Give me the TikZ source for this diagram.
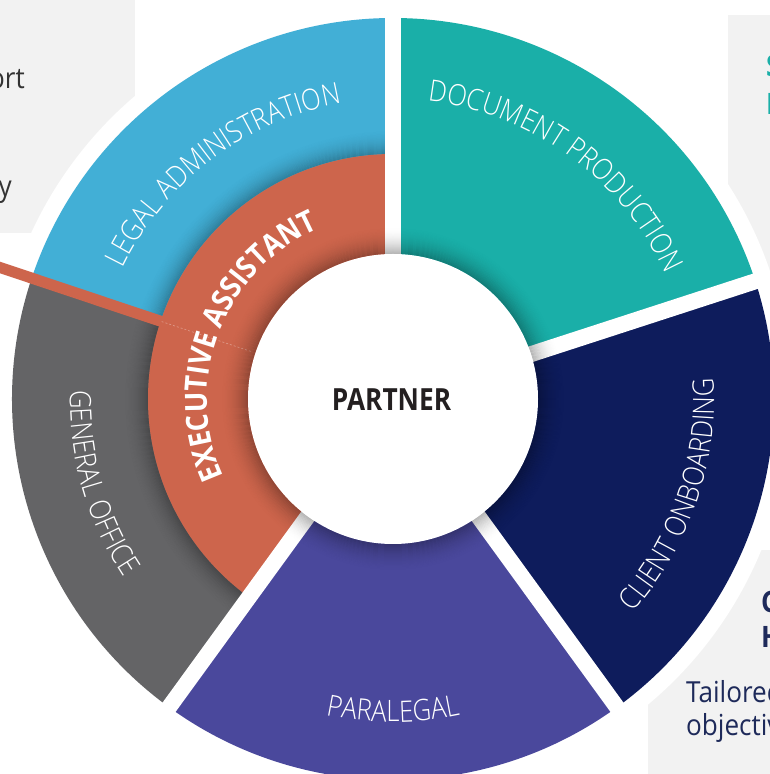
\documentclass[tikz,border=0pt]{standalone}
\usepackage{fontspec}
\usetikzlibrary{decorations.text}
\IfFontExistsTF{Open Sans Light}{\newfontfamily\lblfont[FakeStretch=0.87]{Open Sans Light}}{\newfontfamily\lblfont[FakeStretch=0.87]{Open Sans}}
\newfontfamily\ptfont[FakeStretch=0.86]{Open Sans}
\newfontfamily\boxfont[FakeStretch=0.9]{Open Sans}
\newfontfamily\eafont[FakeStretch=0.89]{Open Sans}
\definecolor{cblue}{HTML}{42AFD6}
\definecolor{cteal}{HTML}{1AAFA8}
\definecolor{cnavy}{HTML}{0E1C5C}
\definecolor{cpurple}{HTML}{4A489C}
\definecolor{cgray}{HTML}{646466}
\definecolor{corange}{HTML}{CD654C}
\definecolor{cbox}{HTML}{F2F2F2}
\definecolor{ctext}{HTML}{333333}
\definecolor{cnavytext}{HTML}{1E2A5A}
\definecolor{cpartner}{HTML}{231F20}
\tikzset{
  boxtext/.style={inner sep=0pt, anchor=base west, font=\boxfont\fontsize{29}{35}\selectfont},
  boxhead/.style={inner sep=0pt, anchor=base west, font=\boxfont\bfseries\fontsize{29.5}{35}\selectfont},
  gapline/.style={white, line width=16},
  arclabel/.style={decorate, decoration={text along path, text color=white, text align=center, text={|\lblfont\fontsize{29.5}{29.5}\selectfont|#1}}},
}
\begin{document}
\begin{tikzpicture}[x=1pt,y=1pt]
\useasboundingbox (0,0) rectangle (770,774);
\clip (0,0) rectangle (770,774);
\fill[white] (0,0) rectangle (770,774);
% side boxes
\fill[cbox] (0,541) rectangle (135,780);
\fill[cbox] (728,474) rectangle (780,759);
\fill[cbox] (648,-10) rectangle (780,224);
\node[boxtext, anchor=base east, text=ctext] (tl1) at (25,685) {ort};
\node[boxtext, anchor=base east, text=ctext] (tl2) at (12,577) {y};
\node[boxhead, text=cteal] (tr1) at (766,697) {S};
\node[boxhead, text=cteal] (tr2) at (766,659) {I};
\node[boxhead, text=cnavytext] (br1) at (761,161) {C};
\node[boxhead, text=cnavytext] (br2) at (761,126) {H};
\node[boxtext, text=cnavytext] (br3) at (686,71) {Tailored};
\node[boxtext, text=cnavytext] (br4) at (686,38) {objective};
\begin{scope}[shift={(393,375)}]
  \fill[white] (0,0) circle (398);
  \fill[cteal] (0,0) -- (18:381) arc[start angle=18,end angle=90,radius=381] -- cycle;
  \fill[cnavy] (0,0) -- (-54:381) arc[start angle=-54,end angle=18,radius=381] -- cycle;
  \fill[cpurple] (0,0) -- (-126:381) arc[start angle=-126,end angle=-54,radius=381] -- cycle;
  \fill[cgray] (0,0) -- (161.5:381) arc[start angle=161.5,end angle=234,radius=381] -- cycle;
  \fill[cblue] (0,0) -- (90:381) arc[start angle=90,end angle=161.5,radius=381] -- cycle;
  % shadow of the inner ring on the outer ring
  \begin{scope}
    \clip (0,0) -- (90:400) arc[start angle=90,end angle=234,radius=400] -- cycle;
    \foreach \k in {0,...,24} {
      \pgfmathsetmacro\op{0.24*(1-\k/25)^2}
      \fill[black, opacity=\op, even odd rule] (0,0) circle (245+\k) (0,0) circle (246+\k);
    }
  \end{scope}
  % executive assistant ring
  \fill[corange] (0,0) -- (90:245) arc[start angle=90,end angle=234,radius=245] -- cycle;
  \draw[corange, line width=11] (161.5:240) -- (161.5:430);
  \draw[white, opacity=0.35, line width=0.6, dash pattern=on 2 off 2] (161.5:150) -- (161.5:245);
  % gaps
  \foreach \a in {90,18,-54,234} \draw[gapline] (0,0) -- (\a:390);
  % shadow around the centre
  \foreach \k in {0,...,27} {
    \pgfmathsetmacro\op{0.26*(1-\k/28)^2}
    \fill[black, opacity=\op, even odd rule] (0,0) circle (145+\k) (0,0) circle (146+\k);
  }
  \fill[white] (0,0) circle (145);
  \node[font=\ptfont\bfseries\fontsize{30.5}{30}\selectfont, text=cpartner, inner sep=0pt] (partner) at (-1.5,-0.5) {PARTNER};
  % curved labels
  \path[arclabel={LEGAL ADMINISTRATION}] (172:300) arc[start angle=172,end angle=82,radius=300];
  \path[arclabel={DOCUMENT PRODUCTION}] (99:300) arc[start angle=99,end angle=9,radius=300];
  \path[arclabel={CLIENT ONBOARDING}] (-64:321) arc[start angle=-64,end angle=26,radius=321];
  \path[arclabel={PARALEGAL}] (-135:323) arc[start angle=-135,end angle=-45,radius=323];
  \path[arclabel={GENERAL OFFICE}] (151:323) arc[start angle=151,end angle=241,radius=323];
  \path[decorate, decoration={text along path, text color=white, text align=center, text={|\eafont\bfseries\fontsize{30.5}{30.5}\selectfont|EXECUTIVE ASSISTANT}}] (219:186) arc[start angle=219,end angle=99,radius=186];
\end{scope}
\end{tikzpicture}
\end{document}
